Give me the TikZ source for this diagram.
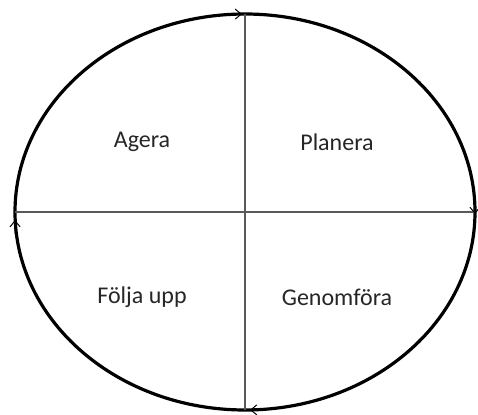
\documentclass[tikz,border=0pt]{standalone}
\usepackage{fontspec}
\setmainfont{Carlito}
\usetikzlibrary{arrows.meta}
\begin{document}
\begin{tikzpicture}[x=1pt,y=-1pt,
  cycle/.style={line width=3.2pt},
  axis/.style={gray!70!black,line width=1.2pt},
  tip/.style={-{Straight Barb[length=6pt,width=10pt,line width=1pt]},line width=1pt},
  phase/.style={font=\fontsize{24}{28}\selectfont,text=black!85}]
\useasboundingbox (0,0) rectangle (478,414);
% ellipsen med korset
\coordinate (c) at (245,212);
\draw[cycle] (c) ellipse (230 and 198);
\coordinate (n) at (245,14);
\coordinate (s) at (245,410);
\coordinate (w) at (15,212);
\coordinate (e) at (475,212);
\draw[axis] (n) -- (s);
\draw[axis] (w) -- (e);
% pilar längs ellipsen
\draw[tip] (228,14.2) -- (242,14);
\draw[tip] (474.9,200) -- (475,214);
\draw[tip] (262,409.8) -- (250,410);
\draw[tip] (15.1,234) -- (15,220);
% faserna
\node[phase] (agera) at (142,142) {Agera};
\node[phase] (planera) at (337,142) {Planera};
\node[phase] (folja) at (142,297) {Följa upp};
\node[phase] (genom) at (337,297) {Genomföra};
\end{tikzpicture}
\end{document}
